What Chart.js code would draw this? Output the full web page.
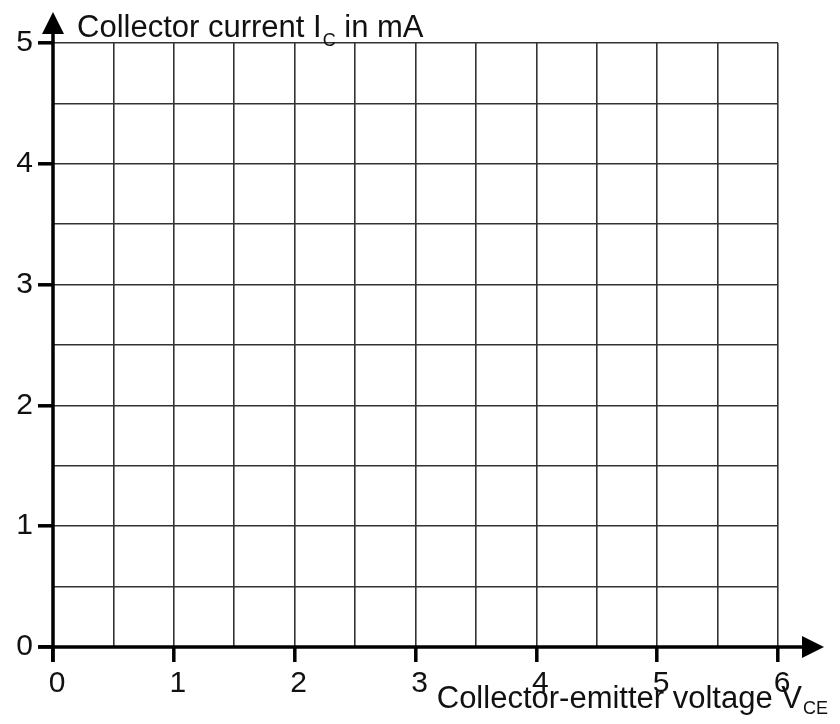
<!DOCTYPE html>
<html>
<head>
<meta charset="utf-8">
<script src="https://cdn.jsdelivr.net/npm/chart.js@4/dist/chart.umd.min.js"></script>
<style>
  html, body { margin: 0; padding: 0; background: #fff; }
</style>
</head>
<body>
<canvas id="chart" width="840" height="724"></canvas>
<script>
// axis ranges and labels (empty grid, no series)
const xRange = [0, 6];
const yRange = [0, 5];
const gridStep = 0.5;
const xTickLabels = [0, 1, 2, 3, 4, 5, 6];
const yTickLabels = [0, 1, 2, 3, 4, 5];
const yTitle = ['Collector current I', 'C', ' in mA'];
const xTitle = ['Collector-emitter voltage V', 'CE'];

const FONT = "'Liberation Sans', Arial, sans-serif";

// axis lines with arrow heads + axis titles with subscripts
const axesPlugin = {
  id: 'axesPlugin',
  afterDraw(chart) {
    const { ctx, scales } = chart;
    const x0 = scales.x.getPixelForValue(0);
    const y0 = scales.y.getPixelForValue(0);
    ctx.save();
    ctx.strokeStyle = '#000';
    ctx.fillStyle = '#000';
    ctx.lineWidth = 3.5;

    // y axis
    ctx.beginPath();
    ctx.moveTo(x0, y0 + 15);
    ctx.lineTo(x0, 30);
    ctx.stroke();
    ctx.beginPath();
    ctx.moveTo(x0, 12);
    ctx.lineTo(x0 - 11, 34);
    ctx.lineTo(x0 + 11, 34);
    ctx.closePath();
    ctx.fill();

    // x axis
    ctx.beginPath();
    ctx.moveTo(x0 - 15, y0);
    ctx.lineTo(806, y0);
    ctx.stroke();
    ctx.beginPath();
    ctx.moveTo(824, y0);
    ctx.lineTo(802, y0 - 11);
    ctx.lineTo(802, y0 + 11);
    ctx.closePath();
    ctx.fill();

    // titles
    ctx.fillStyle = '#111';
    ctx.textBaseline = 'alphabetic';
    ctx.textAlign = 'left';
    ctx.font = '31px ' + FONT;
    let tx = 77;
    ctx.fillText(yTitle[0], tx, 37);
    tx += ctx.measureText(yTitle[0]).width + 1;
    ctx.font = '18px ' + FONT;
    ctx.fillText(yTitle[1], tx, 46);
    tx += ctx.measureText(yTitle[1]).width;
    ctx.font = '31px ' + FONT;
    ctx.fillText(yTitle[2], tx, 37);

    ctx.font = '18px ' + FONT;
    const subW = ctx.measureText(xTitle[1]).width;
    ctx.font = '31px ' + FONT;
    const mainW = ctx.measureText(xTitle[0]).width;
    const xStart = 828 - subW - 1 - mainW;
    ctx.fillText(xTitle[0], xStart, 708);
    ctx.font = '18px ' + FONT;
    ctx.fillText(xTitle[1], xStart + mainW + 1, 714);
    ctx.restore();
  }
};

const isMajor = (v, list) => list.includes(v);

new Chart(document.getElementById('chart'), {
  type: 'scatter',
  data: { datasets: [{ data: [] }] },
  options: {
    responsive: false,
    devicePixelRatio: 1,
    animation: false,
    layout: { padding: { left: 0, top: 43, right: 62, bottom: 0 } },
    plugins: { legend: { display: false }, tooltip: { enabled: false } },
    scales: {
      x: {
        type: 'linear',
        min: xRange[0],
        max: xRange[1],
        afterFit(scale) { scale.height = 77; },
        border: { display: false },
        grid: {
          color: '#333',
          lineWidth: 1.6,
          drawTicks: true,
          tickLength: 15,
          tickWidth: 3.5,
          tickColor: c => isMajor(c.tick.value, xTickLabels) ? '#000' : 'rgba(0,0,0,0)'
        },
        ticks: {
          stepSize: gridStep,
          autoSkip: false,
          maxRotation: 0,
          padding: 4,
          labelOffset: 4,
          color: '#111',
          font: { family: FONT, size: 30 },
          callback: v => isMajor(v, xTickLabels) ? String(v) : ''
        }
      },
      y: {
        type: 'linear',
        min: yRange[0],
        max: yRange[1],
        afterFit(scale) { scale.width = 53; },
        border: { display: false },
        grid: {
          color: '#333',
          lineWidth: 1.6,
          drawTicks: true,
          tickLength: 15,
          tickWidth: 3.5,
          tickColor: c => isMajor(c.tick.value, yTickLabels) ? '#000' : 'rgba(0,0,0,0)'
        },
        ticks: {
          stepSize: gridStep,
          autoSkip: false,
          padding: 5,
          color: '#111',
          font: { family: FONT, size: 30 },
          callback: v => isMajor(v, yTickLabels) ? String(v) : ''
        }
      }
    }
  },
  plugins: [axesPlugin]
});
</script>
</body>
</html>
